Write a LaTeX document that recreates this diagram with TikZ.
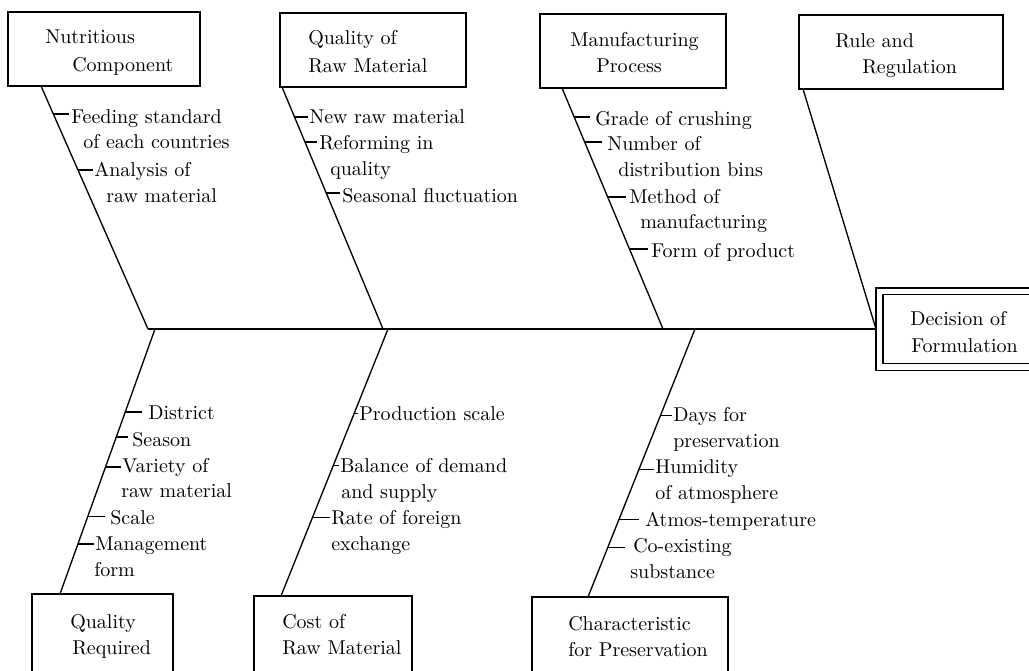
\documentclass[tikz,border=0pt]{standalone}
\usepackage{fontspec}
\setmainfont{lmroman10-regular}[Extension=.otf]
\usetikzlibrary{calc}
\begin{document}
\begin{tikzpicture}[x=0.75pt,y=-0.75pt,
  box/.style={draw,line width=1pt,rectangle,inner sep=0pt,outer sep=0pt},
  lbl/.style={anchor=base west,inner sep=0pt,font=\fontsize{15}{18}\selectfont},
  bone/.style={line width=1pt},
  tk/.style={line width=0.9pt}]
\useasboundingbox (0,0) rectangle (1029,671);
% ---- boxes
\node[box,minimum width={192*0.75pt},minimum height={74*0.75pt}] (nc) at (104,49) {};
\node[box,minimum width={186*0.75pt},minimum height={74*0.75pt}] (qr) at (373,50) {};
\node[box,minimum width={186*0.75pt},minimum height={74*0.75pt}] (mp) at (633,51) {};
\node[box,minimum width={204*0.75pt},minimum height={74*0.75pt}] (rr) at (901,52) {};
\node[box,minimum width={141*0.75pt},minimum height={110*0.75pt}] (qreq) at (102.5,649) {};
\node[box,minimum width={158*0.75pt},minimum height={110*0.75pt}] (cost) at (333,651) {};
\node[box,minimum width={196*0.75pt},minimum height={110*0.75pt}] (char) at (630,652) {};
\node[box,double,double distance={5.5*0.75pt},outer sep={3.5*0.75pt},
      minimum width={170*0.75pt},minimum height={75.5*0.75pt}] (dec) at (964.5,329) {};
% ---- box texts
\node[lbl] (nc1) at (45,43) {Nutritious};
\node[lbl] (nc2) at (72,71) {Component};
\node[lbl] (qr1) at (308,45) {Quality of};
\node[lbl] (qr2) at (308,72) {Raw Material};
\node[lbl] (mp1) at (570,46) {Manufacturing};
\node[lbl] (mp2) at (596,72) {Process};
\node[lbl] (rr1) at (835,47) {Rule and};
\node[lbl] (rr2) at (862,73) {Regulation};
\node[lbl] (dc1) at (910,325) {Decision of};
\node[lbl] (dc2) at (911,352) {Formulation};
\node[lbl] (qq1) at (70,628) {Quality};
\node[lbl] (qq2) at (72,654) {Required};
\node[lbl] (cr1) at (282,628) {Cost of};
\node[lbl] (cr2) at (282,654) {Raw Material};
\node[lbl] (cp1) at (568,630) {Characteristic};
\node[lbl] (cp2) at (568,656) {for Preservation};
% ---- skeleton coordinates
\coordinate (b1s) at ($(nc.south west)+(33,0)$);
\coordinate (b2s) at ($(qr.south west)+(2,0)$);
\coordinate (b3s) at ($(mp.south west)+(22,0)$);
\coordinate (b4s) at ($(rr.south west)+(4,0)$);
\coordinate (j1a) at (148,329);
\coordinate (j1b) at (155,329);
\coordinate (j2a) at (383,329);
\coordinate (j2b) at (388,329);
\coordinate (j3a) at (663,329);
\coordinate (j3b) at (695,329);
\coordinate (b5e) at ($(qreq.north west)+(28,0)$);
\coordinate (b6e) at ($(cost.north west)+(27,0)$);
\coordinate (b7e) at ($(char.north west)+(56,0)$);
% ---- spine and bones
\draw[bone] (j1a) -- (dec.west);
\draw[bone] (b1s) -- (j1a);
\draw[bone] (b2s) -- (j2a);
\draw[bone] (b3s) -- (j3a);
\draw[bone] (b4s) -- (dec.west);
\draw[bone] (j1b) -- (b5e);
\draw[bone] (j2b) -- (b6e);
\draw[bone] (j3b) -- (b7e);
% ---- Nutritious Component
\node[lbl] (n1) at (71,123) {Feeding standard};
\node[lbl] (n1b) at (83,148) {of each countries};
\node[lbl] (n2) at (94,176) {Analysis of};
\node[lbl] (n2b) at (106,202) {raw material};
\draw[tk] ($(b1s)!0.115!(j1a)$) -- ++(16,0);
\draw[tk] ($(b1s)!0.346!(j1a)$) -- ++(15,0);
% ---- Quality of Raw Material
\node[lbl] (q1) at (309,123) {New raw material};
\node[lbl] (q2) at (319,149) {Reforming in};
\node[lbl] (q2b) at (330,175) {quality};
\node[lbl] (q3) at (342,202) {Seasonal fluctuation};
\draw[tk] ($(b2s)!0.124!(j2a)$) -- ++(13,0);
\draw[tk] ($(b2s)!0.227!(j2a)$) -- ++(12,0);
\draw[tk] ($(b2s)!0.438!(j2a)$) -- ++(14,0);
% ---- Manufacturing Process
\node[lbl] (m1) at (595,125) {Grade of crushing};
\node[lbl] (m2) at (607,150) {Number of};
\node[lbl] (m2b) at (618,176) {distribution bins};
\node[lbl] (m3) at (629,203) {Method of};
\node[lbl] (m3b) at (640,228) {manufacturing};
\node[lbl] (m4) at (651,257) {Form of product};
\draw[tk] ($(b3s)!0.120!(j3a)$) -- ++(16,0);
\draw[tk] ($(b3s)!0.224!(j3a)$) -- ++(17,0);
\draw[tk] ($(b3s)!0.452!(j3a)$) -- ++(18,0);
\draw[tk] ($(b3s)!0.668!(j3a)$) -- ++(19,0);
% ---- Quality Required
\node[lbl] (r1) at (148,419) {District};
\node[lbl] (r2) at (132,446) {Season};
\node[lbl] (r3) at (122,472) {Variety of};
\node[lbl] (r3b) at (121,497) {raw material};
\node[lbl] (r4) at (110,524) {Scale};
\node[lbl] (r5) at (95,550) {Management};
\node[lbl] (r5b) at (94,576) {form};
\draw[tk] ($(j1b)!0.313!(b5e)$) -- ++(17,0);
\draw[tk] ($(j1b)!0.4075!(b5e)$) -- ++(12,0);
\draw[tk] ($(j1b)!0.521!(b5e)$) -- ++(15,0);
\draw[tk] ($(j1b)!0.709!(b5e)$) -- ++(17,0);
\draw[tk] ($(j1b)!0.811!(b5e)$) -- ++(16,0);
% ---- Cost of Raw Material
\node[lbl] (c1) at (359,420) {Production scale};
\node[lbl] (c2) at (340,472) {Balance of demand};
\node[lbl] (c2b) at (341,498) {and supply};
\node[lbl] (c3) at (331,524) {Rate of foreign};
\node[lbl] (c3b) at (331,550) {exchange};
\draw[tk] ($(j2b)!0.316!(b6e)$) -- ++(4,0);
\draw[tk] ($(j2b)!0.511!(b6e)$) -- ++(6,0);
\draw[tk] ($(j2b)!0.707!(b6e)$) -- ++(18,0);
% ---- Characteristic for Preservation
\node[lbl] (p1) at (673,421) {Days for};
\node[lbl] (p1b) at (673,447) {preservation};
\node[lbl] (p2) at (655,473) {Humidity};
\node[lbl] (p2b) at (655,499) {of atmosphere};
\node[lbl] (p3) at (645,526) {Atmos-temperature};
\node[lbl] (p4) at (633,552) {Co-existing};
\node[lbl] (p4b) at (630,578) {substance};
\draw[tk] ($(j3b)!0.322!(b7e)$) -- ++(11,0);
\draw[tk] ($(j3b)!0.524!(b7e)$) -- ++(15,0);
\draw[tk] ($(j3b)!0.712!(b7e)$) -- ++(20,0);
\draw[tk] ($(j3b)!0.816!(b7e)$) -- ++(17,0);
\end{tikzpicture}
\end{document}
